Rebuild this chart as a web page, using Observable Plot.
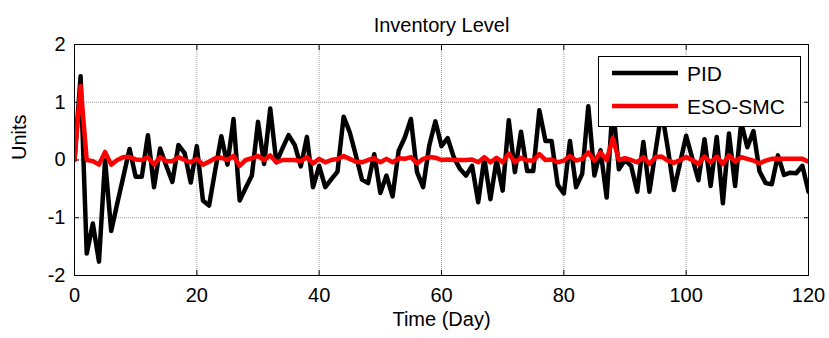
<!DOCTYPE html>
<html><head><meta charset="utf-8">
<script src="https://cdn.jsdelivr.net/npm/d3@7"></script>
<script src="https://cdn.jsdelivr.net/npm/@observablehq/plot@0.6"></script>
<style>html,body{margin:0;padding:0;background:#fff}</style>
</head><body><div id="chart"></div>
<script>
const days = d3.range(0, 121);
const pid = [0,1.45,-1.62,-1.10,-1.76,0.0,-1.23,-0.75,-0.28,0.19,
-0.29,-0.29,0.43,-0.47,0.2,-0.1,-0.38,0.26,0.12,-0.39,
0.24,-0.70,-0.79,-0.18,0.41,-0.08,0.71,-0.70,-0.48,-0.27,
0.66,-0.07,0.89,-0.04,0.2,0.43,0.26,-0.11,0.4,-0.47,
-0.1,-0.47,-0.33,-0.2,0.75,0.48,0.08,-0.34,-0.4,0.1,
-0.57,-0.27,-0.63,0.16,0.39,0.71,-0.21,-0.47,0.25,0.67,
0.24,0.38,0.05,-0.15,-0.27,-0.1,-0.73,0.03,-0.68,0.0,
-0.53,0.69,-0.21,0.49,-0.19,-0.19,0.86,0.33,0.33,-0.43,
-0.58,0.33,-0.47,-0.24,0.93,-0.27,0.17,-0.65,0.95,-0.16,
0.0,-0.1,-0.55,0.31,-0.55,0.16,0.85,0.2,-0.52,-0.05,
0.42,0.03,-0.35,0.36,-0.45,0.4,-0.75,0.46,-0.45,0.65,
0.22,0.5,-0.2,-0.4,-0.42,0.08,-0.26,-0.22,-0.23,-0.1,
-0.55];
const esoSmc = [0,1.28,0.0,-0.02,-0.08,0.14,-0.08,0.0,0.05,0.05,
0.01,0.0,0.05,-0.08,0.05,-0.02,-0.02,0.05,0.0,-0.04,
0.02,-0.08,-0.03,0.03,0.04,0.0,0.07,-0.1,0.0,0.03,
0.07,0.0,0.08,-0.04,0.0,0.0,0.0,-0.02,0.05,-0.06,
0.02,-0.04,0.0,0.02,0.07,0.02,-0.03,-0.04,0.0,0.03,
-0.04,0.02,-0.04,0.03,0.02,0.05,-0.06,0.02,0.05,0.04,
0.0,0.01,0.0,0.0,0.0,0.01,-0.04,0.05,-0.04,0.04,
-0.04,0.11,-0.04,0.04,-0.01,-0.01,0.1,0.0,0.01,-0.04,
-0.01,0.07,-0.01,0.02,0.13,-0.01,0.13,0.0,0.38,0.0,
0.03,0.0,-0.04,0.05,-0.07,0.05,0.06,-0.01,-0.05,0.0,
0.05,0.0,-0.07,0.06,-0.04,0.06,-0.07,0.08,-0.03,0.05,
0.02,-0.01,-0.06,-0.01,0.02,0.02,0.02,0.02,0.02,0.02,
-0.03];
const xTicks = [0,20,40,60,80,100,120];
const yTicks = [-2,-1,0,1,2];
const seriesNames = ["PID","ESO-SMC"];
const seriesColors = ["#000000","#ff0000"];
const titleText = "Inventory Level";
const xLabel = "Time (Day)";
const yLabel = "Units";

const rows = days.map((d,i)=>({day:d, pid:pid[i], eso:esoSmc[i]}));
const FONT = "Arial, 'Liberation Sans', sans-serif";
const fmt = d => String(d);
const gridStyle = {stroke:"#8a8a8a", strokeOpacity:0.8, strokeDasharray:"1,1"};

const chart = Plot.plot({
  width: 829, height: 338,
  marginLeft: 74, marginRight: 21, marginTop: 44, marginBottom: 63,
  style: {fontFamily: FONT, fontSize: "20px", background: "#fff", color: "#000", overflow: "visible"},
  x: {domain: [0,120]},
  y: {domain: [-2,2]},
  marks: [
    Plot.gridX(xTicks, gridStyle),
    Plot.gridY(yTicks, gridStyle),
    Plot.axisX(xTicks, {anchor:"bottom", tickSize:0, tickPadding:12, tickFormat:fmt, label:null}),
    Plot.axisY(yTicks, {anchor:"left", tickSize:0, tickPadding:9, tickFormat:fmt, label:null}),
    Plot.axisX(xTicks, {anchor:"bottom", tickSize:-5, tickFormat:()=>"", label:null}),
    Plot.axisX(xTicks, {anchor:"top", tickSize:-5, tickFormat:()=>"", label:null}),
    Plot.axisY(yTicks, {anchor:"left", tickSize:-5, tickFormat:()=>"", label:null}),
    Plot.axisY(yTicks, {anchor:"right", tickSize:-5, tickFormat:()=>"", label:null}),
    Plot.lineY(rows, {x:"day", y:"pid", stroke:seriesColors[0], strokeWidth:4.5, clip:true}),
    Plot.lineY(rows, {x:"day", y:"eso", stroke:seriesColors[1], strokeWidth:4.5, clip:true}),
    Plot.frame({stroke:"#000", strokeWidth:1}),
    Plot.text([titleText], {text:d=>d, frameAnchor:"top", dy:-27, fontSize:20}),
    Plot.text([xLabel], {text:d=>d, frameAnchor:"bottom", dy:50, fontSize:20}),
    Plot.text([yLabel], {text:d=>d, frameAnchor:"left", dx:-55, rotate:-90, fontSize:20})
  ]
});
document.getElementById("chart").appendChild(chart);

// legend box (inside the plot, top right)
const svg = d3.select(chart);
const g = svg.append("g").attr("font-family", FONT).attr("font-size", 21).attr("text-anchor","start");
g.append("rect").attr("x",598.5).attr("y",56.5).attr("width",202).attr("height",70)
  .attr("fill","#fff").attr("stroke","#000").attr("stroke-width",1);
seriesNames.forEach((name,i)=>{
  const y = 73 + i*33;
  g.append("line").attr("x1",612).attr("x2",678).attr("y1",y).attr("y2",y)
    .attr("stroke",seriesColors[i]).attr("stroke-width",4.5);
  g.append("text").attr("x",687).attr("y",y).attr("dy","0.36em").attr("fill","#000")
    .attr("text-anchor","start").text(name);
});
</script>
</body></html>
